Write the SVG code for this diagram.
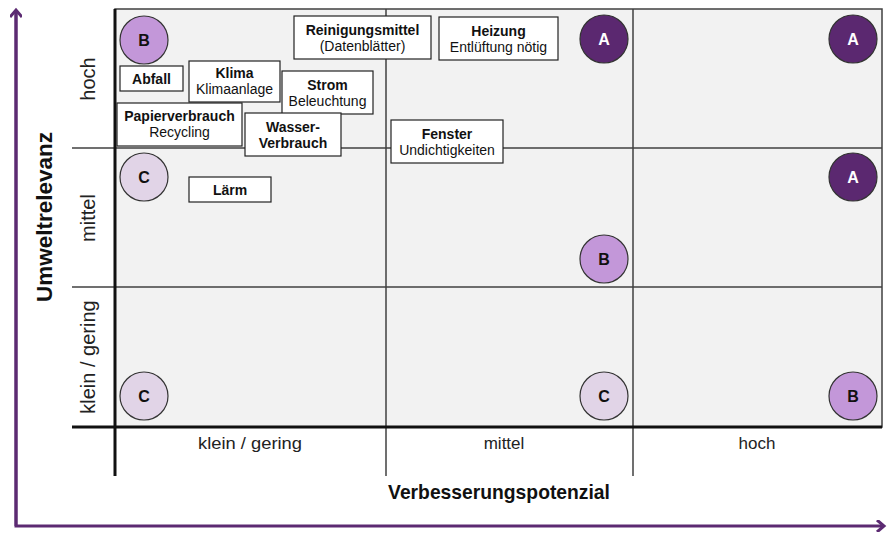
<svg xmlns="http://www.w3.org/2000/svg" width="888" height="534" viewBox="0 0 888 534">
<style>
.grid{stroke:#404040;stroke-width:1.5;fill:none}
.thick{stroke:#111;stroke-width:3;fill:none}
.box rect{fill:#fff;stroke:#222;stroke-width:1.2}
.bt{font-family:"Liberation Sans",Arial,sans-serif;font-size:14px;font-weight:bold;fill:#111;text-anchor:middle}
.rt{font-family:"Liberation Sans",Arial,sans-serif;font-size:14px;fill:#111;text-anchor:middle}
.circ circle{stroke:#333;stroke-width:1.2}
.ct{font-family:"Liberation Sans",Arial,sans-serif;font-size:16px;font-weight:bold;text-anchor:middle}
.lbl{font-family:"Liberation Sans",Arial,sans-serif;font-size:17px;fill:#222;text-anchor:middle}
.rl{font-family:"Liberation Sans",Arial,sans-serif;font-size:20px;fill:#222;text-anchor:middle}
.ax{font-family:"Liberation Sans",Arial,sans-serif;font-weight:bold;fill:#111;text-anchor:middle}
.A circle{fill:#5b2870}.A text{fill:#fff}
.B circle{fill:#c397d9}.B text{fill:#111}
.C circle{fill:#e1d4e7}.C text{fill:#111}
</style>
<defs>
<marker id="arr" markerWidth="12" markerHeight="12" refX="9" refY="6" orient="auto" markerUnits="userSpaceOnUse">
<path d="M2,0 L9,6 L2,12" fill="none" stroke="#5c2a72" stroke-width="3"/>
</marker>
</defs>
<rect width="888" height="534" fill="#fff"/>
<rect x="115" y="9" width="767" height="418" fill="#f2f2f2"/>
<g id="grid">
<rect x="115" y="9" width="767" height="418" class="grid"/>
<line x1="386" y1="9" x2="386" y2="476" class="grid"/>
<line x1="633" y1="9" x2="633" y2="476" class="grid"/>
<line x1="72" y1="148" x2="882" y2="148" class="grid"/>
<line x1="72" y1="287" x2="882" y2="287" class="grid"/>
<line x1="115" y1="9" x2="115" y2="476" class="thick"/>
<line x1="72" y1="427" x2="882" y2="427" class="thick"/>
</g>
<g id="axes">
<polyline points="16,10 16,526 884,526" fill="none" stroke="#5c2a72" stroke-width="3" marker-end="url(#arr)"/>
<line x1="16" y1="526" x2="16" y2="10" stroke="#5c2a72" stroke-width="3" marker-end="url(#arr)"/>
</g>
<g id="labels">
<text class="ax" font-size="22.5" transform="translate(52,217) rotate(-90)">Umweltrelevanz</text>
<text class="ax" font-size="19.3" x="499" y="499">Verbesserungspotenzial</text>
<text class="rl" transform="translate(95,79) rotate(-90)">hoch</text>
<text class="rl" transform="translate(95,218) rotate(-90)">mittel</text>
<text class="rl" transform="translate(95,357) rotate(-90)">klein / gering</text>
<text class="lbl" x="250" y="449" textLength="104" lengthAdjust="spacingAndGlyphs">klein / gering</text>
<text class="lbl" x="504" y="449">mittel</text>
<text class="lbl" x="757" y="449">hoch</text>
</g>
<g id="circles">
<g id="c1" class="circ B"><circle cx="144" cy="40" r="24"/><text class="ct" x="144" y="46">B</text></g>
<g id="c2" class="circ A"><circle cx="604" cy="39" r="24"/><text class="ct" x="604" y="45">A</text></g>
<g id="c3" class="circ A"><circle cx="853" cy="39" r="24"/><text class="ct" x="853" y="45">A</text></g>
<g id="c4" class="circ C"><circle cx="144" cy="177" r="24"/><text class="ct" x="144" y="183">C</text></g>
<g id="c5" class="circ A"><circle cx="853" cy="177" r="24"/><text class="ct" x="853" y="183">A</text></g>
<g id="c6" class="circ B"><circle cx="604" cy="259" r="24"/><text class="ct" x="604" y="265">B</text></g>
<g id="c7" class="circ C"><circle cx="144" cy="396" r="24"/><text class="ct" x="144" y="402">C</text></g>
<g id="c8" class="circ C"><circle cx="604" cy="396" r="24"/><text class="ct" x="604" y="402">C</text></g>
<g id="c9" class="circ B"><circle cx="853" cy="396" r="24"/><text class="ct" x="853" y="402">B</text></g>
</g>
<g id="boxes">
<g id="abfall" class="box"><rect x="120" y="66" width="63" height="25"/><text class="bt" x="151.5" y="83.5">Abfall</text></g>
<g id="klima" class="box"><rect x="189" y="61" width="91" height="41"/><text class="bt" x="234.5" y="78">Klima</text><text class="rt" x="234.5" y="94">Klimaanlage</text></g>
<g id="papier" class="box"><rect x="117" y="103" width="125" height="43"/><text class="bt" x="179.5" y="121">Papierverbrauch</text><text class="rt" x="179.5" y="137">Recycling</text></g>
<g id="strom" class="box"><rect x="282" y="71" width="91" height="43"/><text class="bt" x="327.5" y="89.5">Strom</text><text class="rt" x="327.5" y="105.5">Beleuchtung</text></g>
<g id="wasser" class="box"><rect x="245" y="113" width="96" height="43"/><text class="bt" x="293" y="131.5">Wasser-</text><text class="bt" x="293" y="147.5">Verbrauch</text></g>
<g id="reinigung" class="box"><rect x="294" y="16" width="137" height="43"/><text class="bt" x="362.5" y="34.5">Reinigungsmittel</text><text class="rt" x="362.5" y="50.5">(Datenblätter)</text></g>
<g id="heizung" class="box"><rect x="439" y="17" width="119" height="43"/><text class="bt" x="498.5" y="35.5">Heizung</text><text class="rt" x="498.5" y="51.5">Entlüftung nötig</text></g>
<g id="fenster" class="box"><rect x="391" y="120" width="112" height="43"/><text class="bt" x="447" y="138.5">Fenster</text><text class="rt" x="447" y="154.5">Undichtigkeiten</text></g>
<g id="laerm" class="box"><rect x="189" y="177" width="82" height="25"/><text class="bt" x="230" y="195">Lärm</text></g>
</g>
</svg>
